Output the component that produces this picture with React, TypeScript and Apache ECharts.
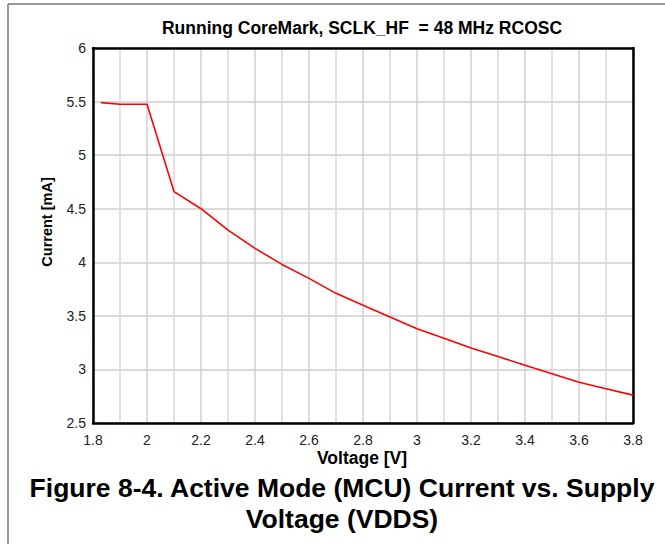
import React, { useEffect, useRef } from "react";
import * as echarts from "echarts";

const voltages = [1.83, 1.9, 2.0, 2.1, 2.2, 2.3, 2.4, 2.5, 2.6, 2.7, 2.8, 2.9, 3.0, 3.1, 3.2, 3.3, 3.4, 3.5, 3.6, 3.7, 3.8];
const currents = [5.49, 5.475, 5.475, 4.66, 4.5, 4.3, 4.13, 3.98, 3.85, 3.71, 3.6, 3.49, 3.38, 3.29, 3.2, 3.12, 3.04, 2.96, 2.88, 2.82, 2.76];

const chartTitle = "Running CoreMark, SCLK_HF  = 48 MHz RCOSC";
const xName = "Voltage [V]";
const yName = "Current [mA]";
const captionLines = ["Figure 8-4. Active Mode (MCU) Current vs. Supply", "Voltage (VDDS)"];

const FONT = "'Liberation Sans', Arial, sans-serif";

export default function App() {
  const ref = useRef<HTMLDivElement>(null);
  useEffect(() => {
    if (!ref.current) return;
    const chart = echarts.init(ref.current, null, { renderer: "svg" });
    const points = voltages.map((v, i) => [v, currents[i]]);
    const frameLine = { show: true, lineStyle: { color: "#000000", width: 2.5 } };
    chart.setOption({
      animation: false,
      backgroundColor: "#ffffff",
      grid: {
        left: 93,
        top: 48,
        right: 32,
        bottom: 121,
        show: false,
      },
      xAxis: [
        {
          type: "value",
          min: 1.8,
          max: 3.8,
          interval: 0.2,
          position: "bottom",
          axisLine: { ...frameLine, onZero: false },
          axisTick: { show: false },
          axisLabel: {
            color: "#222",
            fontFamily: FONT,
            fontSize: 14,
            margin: 10,
            formatter: (v: number) => String(Math.round(v * 10) / 10),
          },
          splitLine: { show: true, lineStyle: { color: "#cfcfcf", width: 1.5 } },
          minorTick: { show: false, splitNumber: 2 },
          minorSplitLine: { show: true, lineStyle: { color: "#d8d8d8", width: 1.5 } },
          z: 3,
        },
        {
          type: "value",
          min: 1.8,
          max: 3.8,
          interval: 0.2,
          position: "top",
          axisLine: { ...frameLine, onZero: false },
          axisTick: { show: false },
          axisLabel: { show: false },
          splitLine: { show: false },
          z: 3,
        },
      ],
      yAxis: [
        {
          type: "value",
          min: 2.5,
          max: 6,
          interval: 0.5,
          position: "left",
          axisLine: { ...frameLine, onZero: false },
          axisTick: { show: false },
          axisLabel: {
            color: "#222",
            fontFamily: FONT,
            fontSize: 14,
            margin: 7,
          },
          splitLine: { show: true, lineStyle: { color: "#cfcfcf", width: 1.5 } },
          z: 3,
        },
        {
          type: "value",
          min: 2.5,
          max: 6,
          interval: 0.5,
          position: "right",
          axisLine: { ...frameLine, onZero: false },
          axisTick: { show: false },
          axisLabel: { show: false },
          splitLine: { show: false },
          z: 3,
        },
      ],
      series: [
        {
          type: "line",
          data: points,
          showSymbol: false,
          symbol: "none",
          lineStyle: { color: "#ff0000", width: 1.6 },
          z: 5,
        },
      ],
      graphic: [
        { type: "line", shape: { x1: 8, y1: 4, x2: 665, y2: 4 }, style: { stroke: "#777", lineWidth: 1.5 } },
        { type: "line", shape: { x1: 8, y1: 4, x2: 8, y2: 544 }, style: { stroke: "#777", lineWidth: 1.5 } },
        {
          type: "text",
          x: 362,
          y: 28,
          style: { text: chartTitle, fill: "#000", font: `bold 17.5px ${FONT}`, textAlign: "center", textVerticalAlign: "middle" },
        },
        {
          type: "text",
          x: 362,
          y: 458,
          style: { text: xName, fill: "#000", font: `bold 17.5px ${FONT}`, textAlign: "center", textVerticalAlign: "middle" },
        },
        {
          type: "text",
          x: 46.7,
          y: 222,
          rotation: Math.PI / 2,
          style: { text: yName, fill: "#000", font: `bold 14.5px ${FONT}`, textAlign: "center", textVerticalAlign: "middle" },
        },
        {
          type: "text",
          x: 342,
          y: 488,
          style: { text: captionLines[0], fill: "#000", font: `bold 26.5px ${FONT}`, textAlign: "center", textVerticalAlign: "middle" },
        },
        {
          type: "text",
          x: 342,
          y: 519,
          style: { text: captionLines[1], fill: "#000", font: `bold 26.5px ${FONT}`, textAlign: "center", textVerticalAlign: "middle" },
        },
      ],
    });
    return () => chart.dispose();
  }, []);
  return <div ref={ref} style={{ position: "fixed", left: 0, top: 0, width: 665, height: 544 }} />;
}
